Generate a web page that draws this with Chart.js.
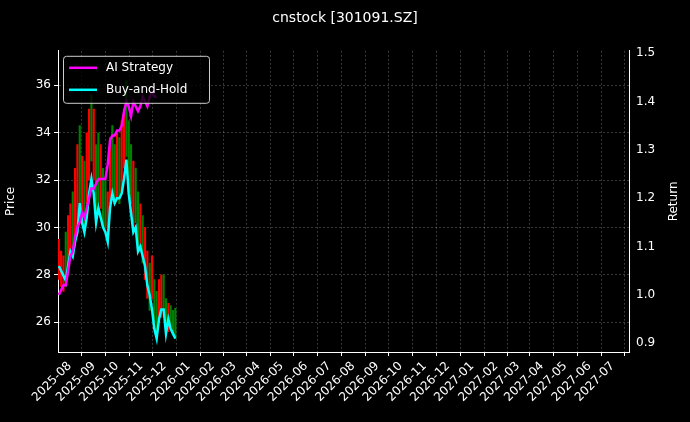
<!DOCTYPE html>
<html><head><meta charset="utf-8">
<script src="https://cdn.jsdelivr.net/npm/chart.js@4"></script>
<style>html,body{margin:0;background:#000;}#w{width:690px;height:422px;}</style>
</head><body><div id="w"><canvas id="c"></canvas></div>
<script>
const monthLabels=["2025-08","2025-09","2025-10","2025-11","2025-12","2026-01","2026-02","2026-03","2026-04","2026-05","2026-06","2026-07","2026-08","2026-09","2026-10","2026-11","2026-12","2027-01","2027-02","2027-03","2027-04","2027-05","2027-06","2027-07"];
const monthDays=[0,31,61,92,122,153,184,212,243,273,304,334,365,396,426,457,487,518,549,577,608,638,669,699];
const days=[-14,-11,-8,-5,-2,1,4,7,10,13,16,19,22,25,28,31,34,37,40,43,46,49,52,55,58,61,64,67,70,73,76,79,82,85,88,91,94,97,100,103,106,109,112,115,118,121,124,127,130,133,136];
const buyHold=[1.06,1.05,1.04,1.03,1.06,1.09,1.08,1.11,1.13,1.19,1.15,1.13,1.16,1.21,1.24,1.21,1.15,1.18,1.16,1.14,1.13,1.11,1.18,1.21,1.19,1.20,1.20,1.21,1.24,1.28,1.21,1.17,1.13,1.14,1.09,1.10,1.08,1.06,1.02,1.00,0.97,0.93,0.91,0.95,0.97,0.97,0.92,0.95,0.93,0.92,0.91];
const aiStrategy=[1.00,1.01,1.02,1.02,1.05,1.08,1.09,1.12,1.14,1.15,1.17,1.16,1.18,1.20,1.22,1.22,1.23,1.24,1.24,1.24,1.24,1.27,1.32,1.33,1.33,1.34,1.34,1.35,1.38,1.40,1.39,1.37,1.40,1.39,1.38,1.39,1.41,1.40,1.39,1.41,1.42,1.41,1.41];
const priceLow=[27.8,27.5,27.3,27.5,28.2,28.8,28.8,29.5,30.0,31.0,30.2,30.0,31.0,32.0,32.8,32.0,30.5,31.0,30.8,30.0,30.0,29.5,31.0,31.5,31.0,31.2,31.0,31.5,32.5,33.0,31.5,31.0,30.0,30.2,29.0,29.0,28.5,27.8,27.0,26.5,27.0,26.0,25.5,26.0,26.2,26.5,25.8,25.6,25.8,25.5,25.3];
const priceHigh=[29.5,29.0,28.8,29.8,30.5,31.0,31.5,32.5,33.5,34.3,33.0,32.8,34.0,35.0,35.6,35.0,33.5,34.0,33.5,32.5,32.0,31.5,33.8,34.3,33.5,34.0,33.8,34.5,35.0,36.2,34.5,33.5,32.8,32.5,31.5,31.0,30.5,30.0,29.0,28.5,28.8,27.8,27.3,27.8,28.0,28.0,27.0,26.8,26.7,26.5,26.6];
const priceUp=[0,0,0,1,0,0,1,0,0,1,0,1,0,0,1,0,1,1,0,1,1,0,0,1,1,0,1,0,0,1,1,1,0,1,1,0,1,0,0,1,0,1,1,0,0,1,1,0,1,1,1];

const candles=days.map((d,i)=>({x:d,y:[priceLow[i],priceHigh[i]]}));
const bh=days.map((d,i)=>({x:d,y:buyHold[i]}));
const ai=aiStrategy.map((v,i)=>({x:days[i],y:v}));
const gridCol='rgba(255,255,255,0.22)';
const F='DejaVu Sans';
const legendPlugin={id:'lg',afterDraw(ch){const c=ch.ctx,a=ch.chartArea;const x=a.left+5,y=a.top+5,w=146,h=47;c.save();
c.fillStyle='rgba(0,0,0,0.8)';c.strokeStyle='#ccc';c.lineWidth=1;c.beginPath();c.roundRect(x+.5,y+.5,w,h,3);c.fill();c.stroke();
const items=[['AI Strategy','#ff00ff'],['Buy-and-Hold','#00ffff']];c.font='12px "'+F+'"';c.textBaseline='middle';
items.forEach((it,i)=>{const yy=y+12+i*22;c.strokeStyle=it[1];c.lineWidth=2.5;c.beginPath();c.moveTo(x+6,yy);c.lineTo(x+34,yy);c.stroke();c.fillStyle='#fff';c.fillText(it[0],x+43,yy);});
// right axis title, rotated bottom-to-top
c.translate(674,a.top+(a.bottom-a.top)/2);c.rotate(-Math.PI/2);c.textAlign='center';c.font='12px "'+F+'"';c.fillText('Return',0,0);
c.restore();}};
new Chart(document.getElementById('c'),{
 data:{datasets:[
  {type:'bar',data:candles,backgroundColor:priceUp.map(u=>u?'#008000':'#ff0000'),barThickness:1.5,grouped:false,yAxisID:'y',order:3},
  {type:'line',data:ai,borderColor:'#ff00ff',borderWidth:2.5,pointRadius:0,yAxisID:'y1',order:1},
  {type:'line',data:bh,borderColor:'#00ffff',borderWidth:2.5,pointRadius:0,yAxisID:'y1',order:2}
 ]},
 options:{responsive:true,maintainAspectRatio:false,animation:false,
  layout:{padding:0},
  plugins:{legend:{display:false},tooltip:{enabled:false},
   title:{display:true,text:'cnstock [301091.SZ]',color:'#fff',font:{family:F,size:14,weight:'normal'},padding:{top:10,bottom:24}}},
  scales:{
   x:{type:'linear',min:-15,max:720,offset:false,
    afterBuildTicks:s=>{s.ticks=monthDays.map(v=>({value:v}));},
    afterFit:s=>{s.height=70;},
    ticks:{color:'#fff',maxRotation:45,minRotation:45,autoSkip:false,font:{family:F,size:12},callback:(v)=>monthLabels[monthDays.indexOf(v)]},
    grid:{color:gridCol,tickColor:'#fff',tickLength:4},border:{color:'#fff',dash:[2,2]}},
   y:{position:'left',min:24.74,max:37.46,afterBuildTicks:s=>{s.ticks=[26,28,30,32,34,36].map(v=>({value:v}));},
    afterFit:s=>{s.width=58;},
    ticks:{color:'#fff',font:{family:F,size:12}},title:{display:true,text:'Price',color:'#fff',font:{family:F,size:12}},
    grid:{color:gridCol,tickColor:'#fff',tickLength:4},border:{color:'#fff',dash:[2,2]}},
   y1:{position:'right',min:0.882,max:1.505,afterBuildTicks:s=>{s.ticks=[0.9,1.0,1.1,1.2,1.3,1.4,1.5].map(v=>({value:v}));},
    afterFit:s=>{s.width=61;},
    ticks:{color:'#fff',font:{family:F,size:12},callback:v=>v.toFixed(1)},
    grid:{display:false,tickColor:'#fff',tickLength:4,drawOnChartArea:false},border:{color:'#fff'}}
  }}
 ,plugins:[legendPlugin]});
</script></body></html>
